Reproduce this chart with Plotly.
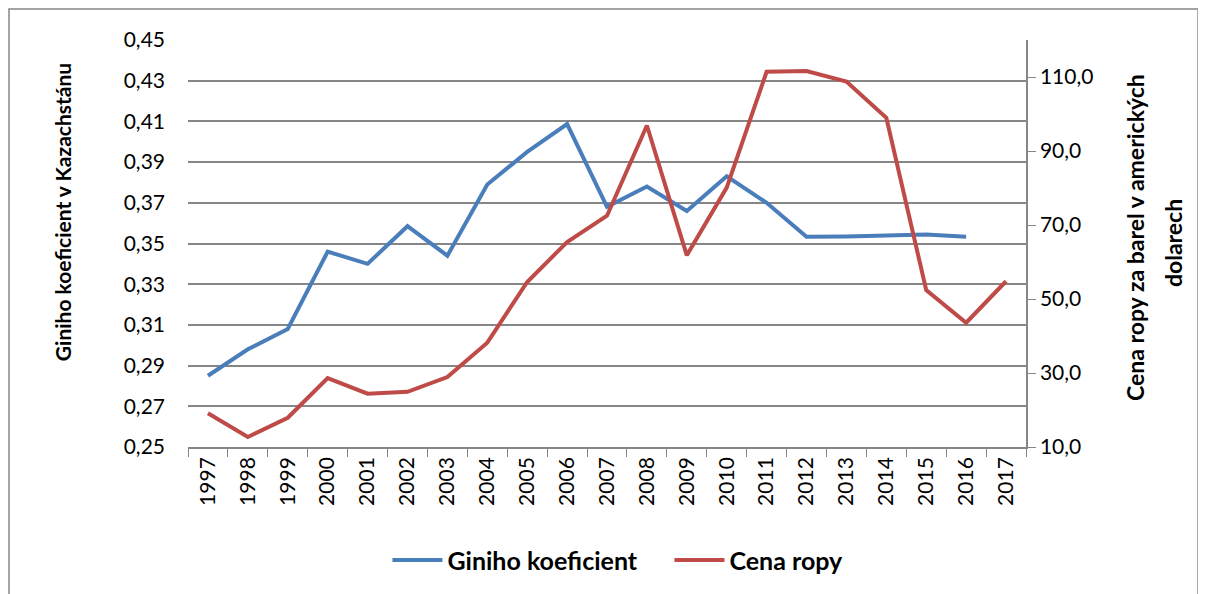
import plotly.graph_objects as go

years = [str(y) for y in range(1997, 2018)]
gini = [0.285, 0.298, 0.308, 0.346, 0.340, 0.3585, 0.344, 0.379, 0.395, 0.4087,
        0.368, 0.378, 0.366, 0.383, 0.370, 0.3533, 0.3534, 0.3541, 0.3544, 0.3533, None]
oil = [19.1, 12.7, 17.9, 28.6, 24.4, 24.9, 28.9, 38.2, 54.6, 65.4,
       72.5, 96.9, 61.8, 80.1, 111.4, 111.6, 108.8, 99.0, 52.4, 43.6, 54.8]

FONT = "Lato"
grey = "#868686"

fig = go.Figure()
fig.add_trace(go.Scatter(x=years, y=gini, name="Giniho koeficient", mode="lines",
                         line=dict(color="#4A7EBB", width=4), connectgaps=False))
fig.add_trace(go.Scatter(x=years, y=oil, name="Cena ropy", mode="lines", yaxis="y2",
                         line=dict(color="#BE4B48", width=4)))

title_font = dict(family=FONT, size=21, color="black", weight="bold")

# the page body adds 8px margin, so the figure is shifted up/left by 8px
fig.update_layout(
    width=1206, height=594,
    margin=dict(l=180, r=188, t=32, b=155),
    paper_bgcolor="white", plot_bgcolor="white",
    separators=", ",
    font=dict(family=FONT, size=21, color="black"),
    showlegend=True,
    legend=dict(orientation="h", x=0.238, xanchor="left", y=-0.278, yanchor="middle",
                font=dict(family=FONT, size=25, color="black", weight="bold"),
                itemwidth=50, tracegroupgap=0,
                entrywidth=217, entrywidthmode="pixels"),
    xaxis=dict(type="category", tickson="boundaries", ticks="outside", ticklen=8,
               tickcolor=grey, showline=True, linecolor=grey, linewidth=1.5,
               showgrid=False, tickangle=-90, tickfont=dict(size=21),
               range=[-0.5, 20.5]),
    yaxis=dict(range=[0.25, 0.45], dtick=0.02, tick0=0.25, tickformat=".2f",
               showgrid=True, gridcolor=grey, gridwidth=1.5, zeroline=False,
               ticks="", showline=False, ticklabelstandoff=22),
    yaxis2=dict(range=[10, 120], overlaying="y", side="right",
                tickvals=[10, 30, 50, 70, 90, 110], tickformat=".1f",
                showgrid=False, zeroline=False, ticks="outside", ticklen=8,
                tickcolor=grey, showline=True, linecolor=grey, linewidth=1.5),
    annotations=[
        dict(text="Giniho koeficient v Kazachstánu", xref="paper", yref="paper",
             x=-0.1504, y=0.577, textangle=-90, showarrow=False,
             xanchor="center", yanchor="middle", font=title_font),
        dict(text="Cena ropy za barel v amerických", xref="paper", yref="paper",
             x=1.130, y=0.516, textangle=-90, showarrow=False,
             xanchor="center", yanchor="middle", font=dict(title_font, size=23)),
        dict(text="dolarech", xref="paper", yref="paper",
             x=1.1754, y=0.501, textangle=-90, showarrow=False,
             xanchor="center", yanchor="middle", font=dict(title_font, size=23)),
    ],
    shapes=[dict(type="rect", xref="paper", yref="paper",
                 x0=-0.2136, x1=1.2053, y0=-0.4, y1=1.0762,
                 line=dict(color=grey, width=1.5))],
)

fig.write_html("out.html")
